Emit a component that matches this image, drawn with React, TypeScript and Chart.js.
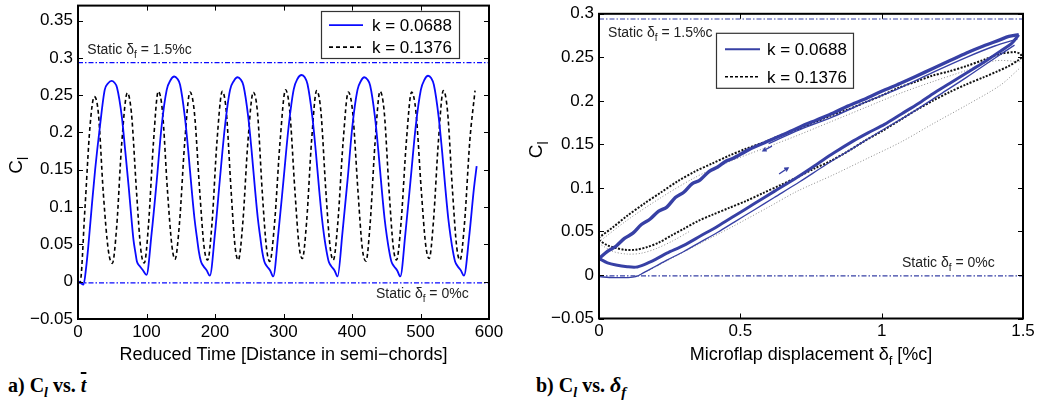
import React, { useEffect, useRef } from "react";
import { Chart, registerables } from "chart.js";
Chart.register(...registerables);

// ---------------- Left chart: C_l vs reduced time ----------------
const tBlue = [0, 3, 8, 12, 15, 20, 25, 32, 39, 44, 49, 53, 57, 64, 69, 74, 78, 81, 84, 86, 90, 95, 100,
  107.5, 115, 122, 129.5, 135, 140.5, 145, 149, 156, 161, 166, 170, 173.5, 176.5, 179.5, 183, 188, 192.5,
  200, 207, 214.5, 222, 227.5, 233, 237.5, 241.5, 248.5, 253.5, 258.5, 262.5, 266, 269, 272, 275.5, 280.5, 285,
  292.5, 300, 307.5, 315, 320.5, 326.5, 331, 335, 342, 347, 352, 356, 359.5, 363, 366, 369.5, 374.5, 379,
  386, 393.5, 400.5, 408, 413, 418, 422.5, 426.5, 433.5, 438.5, 443.5, 447.5, 451, 454.5, 457.5, 461, 466, 470.5,
  478, 485.5, 493, 500.5, 506, 511, 515.5, 519.5, 526.5, 531.5, 536.5, 540.5, 544, 547.5, 550.5, 554, 559, 563.5,
  571, 578, 582];
const clBlue = [0, -0.001, -0.004, 0.02, 0.047, 0.10, 0.15, 0.208, 0.257, 0.266, 0.269, 0.267, 0.260, 0.221, 0.175, 0.127, 0.085, 0.056, 0.038, 0.027, 0.021, 0.015, 0.009,
  0.065, 0.136, 0.208, 0.257, 0.270, 0.275, 0.272, 0.264, 0.221, 0.175, 0.123, 0.085, 0.060, 0.040, 0.027, 0.021, 0.015, 0.008,
  0.065, 0.136, 0.208, 0.257, 0.269, 0.274, 0.271, 0.263, 0.221, 0.175, 0.123, 0.085, 0.060, 0.040, 0.027, 0.021, 0.015, 0.007,
  0.065, 0.136, 0.208, 0.258, 0.272, 0.277, 0.274, 0.265, 0.222, 0.176, 0.124, 0.086, 0.060, 0.040, 0.027, 0.021, 0.015, 0.007,
  0.065, 0.136, 0.208, 0.257, 0.269, 0.274, 0.271, 0.263, 0.221, 0.175, 0.123, 0.085, 0.060, 0.040, 0.027, 0.021, 0.015, 0.007,
  0.065, 0.136, 0.208, 0.257, 0.271, 0.276, 0.273, 0.264, 0.221, 0.175, 0.123, 0.085, 0.060, 0.040, 0.027, 0.021, 0.015, 0.008,
  0.060, 0.125, 0.155];

const tBlack = [0, 3, 10, 17.5, 23.8, 29.7, 37, 44.3, 50.1, 56.5, 63.8, 72, 78, 85.6, 91.8, 96.8,
  102.9, 110.1, 117.2, 123.3, 130.6, 137.1, 141.6, 148.2, 155.8, 163.5, 169.9, 177.7, 184, 189.3,
  195.7, 202.8, 210.7, 216.5, 223.5, 229.3, 234, 240.6, 248, 255.9, 262, 269, 275.2, 280,
  286.9, 295, 303, 309, 316.5, 322.6, 327.5, 333.8, 341, 348.4, 354.5, 361.8, 368, 372.7,
  379.3, 387, 394.6, 401, 408.8, 415, 420.4, 426.5, 433.7, 440.9, 447, 454.2, 460.2, 465,
  471.6, 479.3, 487, 493.4, 501.1, 507.6, 512.7, 518.9, 526.2, 533.3, 539.4, 546.7, 552.8, 557.7,
  564.3, 572, 579.6];
const clBlack = [0, -0.001, 0.096, 0.208, 0.248, 0.226, 0.118, 0.042, 0.0245, 0.074, 0.185, 0.253, 0.226, 0.118, 0.042, 0.025,
  0.076, 0.186, 0.255, 0.228, 0.122, 0.048, 0.030, 0.079, 0.187, 0.254, 0.227, 0.121, 0.047, 0.029,
  0.079, 0.187, 0.255, 0.228, 0.122, 0.047, 0.029, 0.079, 0.187, 0.254, 0.227, 0.120, 0.045, 0.027,
  0.078, 0.188, 0.257, 0.230, 0.124, 0.049, 0.031, 0.081, 0.189, 0.256, 0.229, 0.122, 0.047, 0.029,
  0.079, 0.187, 0.254, 0.227, 0.120, 0.045, 0.0275, 0.078, 0.187, 0.255, 0.228, 0.121, 0.047, 0.029,
  0.079, 0.187, 0.254, 0.227, 0.123, 0.049, 0.031, 0.081, 0.189, 0.256, 0.229, 0.122, 0.047, 0.029,
  0.079, 0.189, 0.256];

const xTicksL = [0, 100, 200, 300, 400, 500, 600];
const yTicksL = [-0.05, 0, 0.05, 0.1, 0.15, 0.2, 0.25, 0.3, 0.35];
const xRangeL = [0, 600];
const yRangeL = [-0.05, 0.37];
const staticL = [0.2935, -0.0015];
const staticLabelPosL = [[13.6, 0.312], [435, -0.015]];

// ---------------- Right chart: C_l vs flap displacement ----------------
const dBlueUp = [1.485, 1.45, 1.418, 1.36, 1.30, 1.24, 1.183, 1.12, 1.065, 1.00, 0.947, 0.88, 0.829, 0.77, 0.711, 0.65, 0.593, 0.53, 0.475, 0.45, 0.42, 0.39, 0.357, 0.33, 0.30, 0.27, 0.24, 0.21, 0.18, 0.15, 0.12, 0.09, 0.06, 0.03, 0.0];
const cBlueUp = [0.276, 0.274, 0.270, 0.263, 0.255, 0.246, 0.2375, 0.228, 0.220, 0.211, 0.203, 0.194, 0.186, 0.178, 0.170, 0.161, 0.153, 0.144, 0.134, 0.131, 0.124, 0.119, 0.109, 0.105, 0.095, 0.089, 0.078, 0.073, 0.064, 0.058, 0.048, 0.042, 0.033, 0.027, 0.019];
const dBlueUp2 = [1.48, 1.40, 1.30, 1.183, 1.065, 0.947, 0.829, 0.711, 0.60];
const cBlueUp2 = [0.271, 0.263, 0.250, 0.233, 0.215, 0.199, 0.182, 0.167, 0.151];
const dBlueLo = [0, 0.03, 0.06, 0.10, 0.13, 0.16, 0.20, 0.24, 0.30, 0.36, 0.42, 0.48, 0.55, 0.62, 0.70, 0.77, 0.83, 0.90, 0.95, 1.01, 1.07, 1.13, 1.18, 1.24, 1.30, 1.36, 1.42, 1.46, 1.485];
const cBlueLo = [0.019, 0.014, 0.0115, 0.0095, 0.009, 0.012, 0.018, 0.025, 0.034, 0.045, 0.056, 0.068, 0.082, 0.096, 0.112, 0.127, 0.140, 0.154, 0.163, 0.173, 0.185, 0.197, 0.208, 0.220, 0.232, 0.244, 0.257, 0.266, 0.276];
const dBlueFirst = [0, 0.05, 0.10, 0.13, 0.16, 0.20, 0.24, 0.30, 0.36, 0.42, 0.48, 0.55, 0.62, 0.71, 0.80, 0.90, 1.0, 1.1, 1.2, 1.3, 1.4, 1.47];
const cBlueFirst = [-0.002, -0.003, -0.003, -0.002, 0.003, 0.010, 0.017, 0.027, 0.038, 0.049, 0.061, 0.075, 0.089, 0.107, 0.126, 0.146, 0.166, 0.185, 0.206, 0.227, 0.249, 0.264];
const dBlackLoop = [0, 0.03, 0.06, 0.09, 0.13, 0.17, 0.21, 0.26, 0.30, 0.35, 0.40, 0.46, 0.52, 0.58, 0.64, 0.70, 0.76, 0.82, 0.88, 0.94, 1.00, 1.06, 1.12, 1.18, 1.24, 1.30, 1.36, 1.41, 1.45, 1.48, 1.495, 1.49,
  1.47, 1.42, 1.36, 1.30, 1.24, 1.18, 1.12, 1.06, 1.00, 0.94, 0.88, 0.82, 0.76, 0.70, 0.64, 0.58, 0.52, 0.46, 0.40, 0.34, 0.28, 0.22, 0.16, 0.10, 0.05, 0.0];
const cBlackLoop = [0.040, 0.034, 0.031, 0.029, 0.029, 0.032, 0.037, 0.046, 0.053, 0.062, 0.069, 0.077, 0.085, 0.094, 0.103, 0.112, 0.122, 0.131, 0.142, 0.154, 0.165, 0.177, 0.189, 0.200, 0.210, 0.219, 0.227, 0.234, 0.240, 0.246, 0.250, 0.254,
  0.256, 0.254, 0.247, 0.240, 0.234, 0.229, 0.222, 0.215, 0.206, 0.198, 0.190, 0.183, 0.175, 0.167, 0.160, 0.152, 0.145, 0.137, 0.128, 0.119, 0.108, 0.095, 0.082, 0.068, 0.055, 0.043];
const dGrayLo = [0.12, 0.143, 0.25, 0.35, 0.475, 0.60, 0.70, 0.829, 0.95, 1.07, 1.183, 1.30, 1.42, 1.49];
const cGrayLo = [-0.002, 0.0, 0.018, 0.035, 0.056, 0.078, 0.096, 0.115, 0.134, 0.153, 0.174, 0.195, 0.218, 0.238];
const dGrayUp = [1.49, 1.40, 1.30, 1.18, 1.06, 0.94, 0.82, 0.70, 0.58, 0.46, 0.34, 0.22, 0.10, 0.0];
const cGrayUp = [0.245, 0.246, 0.235, 0.222, 0.208, 0.192, 0.176, 0.160, 0.145, 0.130, 0.112, 0.089, 0.063, 0.038];
const dGrayTrough = [0, 0.05, 0.10, 0.15, 0.20, 0.26, 0.32];
const cGrayTrough = [0.036, 0.027, 0.024, 0.025, 0.030, 0.039, 0.050];
const arrowsR = [[[0.612, 0.148], [0.58, 0.1425]], [[0.637, 0.116], [0.669, 0.123]]];

const xTicksR = [0, 0.5, 1, 1.5];
const yTicksR = [-0.05, 0, 0.05, 0.1, 0.15, 0.2, 0.25, 0.3];
const xRangeR = [0, 1.5];
const yRangeR = [-0.05, 0.3];
const staticR = [0.294, -0.001];
const staticLabelPosR = [[0.032, 0.279], [1.072, 0.015]];

const legendLabels = ["k = 0.0688", "k = 0.1376"];

// ---------------- helpers ----------------
const FAM = '"Liberation Sans", Arial, Helvetica, sans-serif';
type Seg = { t: string; sub?: boolean; it?: boolean };
const segFont = (s: Seg, size: number) => `${s.it ? "italic " : ""}${s.sub ? Math.round(size * 0.72) : size}px ${FAM}`;
function drawRich(ctx: CanvasRenderingContext2D, segs: Seg[], x: number, yMid: number, size: number, align: string) {
  let w = 0;
  for (const s of segs) { ctx.font = segFont(s, size); w += ctx.measureText(s.t).width; }
  let cx = align === "center" ? x - w / 2 : x;
  ctx.textAlign = "left";
  ctx.textBaseline = "alphabetic";
  const base = yMid + size * 0.36;
  for (const s of segs) {
    ctx.font = segFont(s, size);
    ctx.fillText(s.t, cx, base + (s.sub ? size * 0.3 : 0));
    cx += ctx.measureText(s.t).width;
  }
}
const zip = (xs: number[], ys: number[]) => xs.slice(0, Math.min(xs.length, ys.length)).map((x, i) => ({ x, y: ys[i] }));
const fmt = (v: number) => parseFloat(v.toFixed(3)).toString().replace("-", "\u2212");

type LegendItem = { color: string; dash: number[]; width: number };
type FrameCfg = {
  staticPos: number[][];
  staticTexts: Seg[][];
  legendBox: (a: any) => { x: number; y: number; w: number; h: number; rows: number[]; lineX: number[]; textX: number };
  legendItems: LegendItem[];
  xTitle: Seg[];
  xTitleDy: number;
  yTitleX: number;
  yTitleY: (a: any) => number;
  arrows?: number[][][];
  arrowColor?: string;
};

function makeFrame(cfg: FrameCfg) {
  return {
    id: "frame",
    afterDatasetsDraw(chart: any) {
      const { ctx, chartArea: a, scales } = chart;
      const xs = scales.x, ys = scales.y;
      ctx.save();
      if (cfg.arrows) {
        ctx.strokeStyle = cfg.arrowColor; ctx.lineWidth = 1.3;
        for (const [p0, p1] of cfg.arrows) {
          const x0 = xs.getPixelForValue(p0[0]), y0 = ys.getPixelForValue(p0[1]);
          const x1 = xs.getPixelForValue(p1[0]), y1 = ys.getPixelForValue(p1[1]);
          const ang = Math.atan2(y1 - y0, x1 - x0);
          ctx.beginPath();
          ctx.moveTo(x0, y0); ctx.lineTo(x1, y1);
          ctx.moveTo(x1 - 4 * Math.cos(ang - 0.5), y1 - 4 * Math.sin(ang - 0.5));
          ctx.lineTo(x1, y1);
          ctx.lineTo(x1 - 4 * Math.cos(ang + 0.5), y1 - 4 * Math.sin(ang + 0.5));
          ctx.stroke();
        }
      }
      ctx.strokeStyle = "#000"; ctx.lineWidth = 1; ctx.setLineDash([]);
      ctx.beginPath();
      for (const t of xs.ticks) {
        const p = Math.round(xs.getPixelForValue(t.value)) + 0.5;
        ctx.moveTo(p, a.bottom); ctx.lineTo(p, a.bottom - 5);
        ctx.moveTo(p, a.top); ctx.lineTo(p, a.top + 5);
      }
      for (const t of ys.ticks) {
        const p = Math.round(ys.getPixelForValue(t.value)) + 0.5;
        ctx.moveTo(a.left, p); ctx.lineTo(a.left + 5, p);
        ctx.moveTo(a.right, p); ctx.lineTo(a.right - 5, p);
      }
      ctx.stroke();
      ctx.lineWidth = 2;
      ctx.strokeRect(a.left, a.top, a.right - a.left, a.bottom - a.top);
      ctx.fillStyle = "#222";
      cfg.staticPos.forEach((p, i) => {
        drawRich(ctx, cfg.staticTexts[i], xs.getPixelForValue(p[0]), ys.getPixelForValue(p[1]), 14, "left");
      });
      const L = cfg.legendBox(a);
      ctx.fillStyle = "#fff";
      ctx.fillRect(L.x, L.y, L.w, L.h);
      ctx.strokeStyle = "#333"; ctx.lineWidth = 1.2;
      ctx.strokeRect(L.x + 0.5, L.y + 0.5, L.w, L.h);
      cfg.legendItems.forEach((it, i) => {
        ctx.strokeStyle = it.color; ctx.lineWidth = it.width; ctx.setLineDash(it.dash);
        ctx.beginPath(); ctx.moveTo(L.lineX[0], L.rows[i]); ctx.lineTo(L.lineX[1], L.rows[i]); ctx.stroke();
        ctx.setLineDash([]);
        ctx.fillStyle = "#000";
        drawRich(ctx, [{ t: legendLabels[i] }], L.textX, L.rows[i], 17, "left");
      });
      ctx.fillStyle = "#000";
      drawRich(ctx, cfg.xTitle, (a.left + a.right) / 2, a.bottom + cfg.xTitleDy, 18, "center");
      ctx.save();
      ctx.translate(cfg.yTitleX, cfg.yTitleY(a));
      ctx.rotate(-Math.PI / 2);
      drawRich(ctx, [{ t: "C" }, { t: "l", sub: true }], 0, 0, 19, "center");
      ctx.restore();
      ctx.restore();
    },
  };
}

function noPad(s: any) { s.paddingTop = 0; s.paddingBottom = 0; s.paddingLeft = 0; s.paddingRight = 0; }

function axes(xr: number[], yr: number[], xt: number[], yt: number[], yW: number, xH: number) {
  const tickFont = { family: FAM, size: 17 };
  return {
    x: {
      type: "linear", min: xr[0], max: xr[1],
      grid: { display: false, drawTicks: false }, border: { display: false },
      afterBuildTicks: (s: any) => { s.ticks = xt.map((v) => ({ value: v })); },
      afterFit: (s: any) => { s.height = xH; noPad(s); },
      ticks: { color: "#000", font: tickFont, padding: 3, maxRotation: 0, autoSkip: false, callback: (v: any) => fmt(Number(v)) },
    },
    y: {
      type: "linear", min: yr[0], max: yr[1],
      grid: { display: false, drawTicks: false }, border: { display: false },
      afterBuildTicks: (s: any) => { s.ticks = yt.map((v) => ({ value: v })); },
      afterFit: (s: any) => { s.width = yW; noPad(s); },
      ticks: { color: "#000", font: tickFont, padding: 5, autoSkip: false, callback: (v: any) => fmt(Number(v)) },
    },
  };
}

const BLUE_L = "#0a0aff";
const BLUE_R = "rgb(55,64,165)";

function leftConfig(): any {
  const line = (v: number) => [{ x: xRangeL[0], y: v }, { x: xRangeL[1], y: v }];
  return {
    type: "scatter",
    data: {
      datasets: [
        { data: zip(tBlue, clBlue), borderColor: BLUE_L, borderWidth: 1.8, cubicInterpolationMode: "monotone" },
        { data: zip(tBlack, clBlack), borderColor: "#000", borderWidth: 1.6, borderDash: [4, 3], cubicInterpolationMode: "monotone" },
        { data: line(staticL[0]), borderColor: BLUE_L, borderWidth: 1.2, borderDash: [5, 2, 1.5, 2] },
        { data: line(staticL[1]), borderColor: BLUE_L, borderWidth: 1.2, borderDash: [5, 2, 1.5, 2] },
      ],
    },
    options: {
      responsive: false, animation: false, events: [],
      showLine: true,
      elements: { point: { radius: 0 } },
      layout: { padding: { left: 0, right: 21, top: 5.6, bottom: 0 } },
      plugins: { legend: { display: false }, tooltip: { enabled: false } },
      scales: axes(xRangeL, yRangeL, xTicksL, yTicksL, 78, 51),
    },
    plugins: [makeFrame({
      staticPos: staticLabelPosL,
      staticTexts: [[{ t: "Static \u03b4" }, { t: "f", sub: true }, { t: " = 1.5%c" }], [{ t: "Static \u03b4" }, { t: "f", sub: true }, { t: " = 0%c" }]],
      legendBox: (a: any) => ({ x: a.right - 168, y: a.top + 5.4, w: 138, h: 47, rows: [a.top + 19.5, a.top + 41.5], lineX: [a.right - 160, a.right - 126], textX: a.right - 117 }),
      legendItems: [{ color: BLUE_L, dash: [], width: 1.8 }, { color: "#000", dash: [4, 3], width: 1.6 }],
      xTitle: [{ t: "Reduced Time [Distance in semi\u2212chords]" }],
      xTitleDy: 34.5,
      yTitleX: 15,
      yTitleY: (a: any) => (a.top + a.bottom) / 2 + 3,
    })],
  };
}

function rightConfig(): any {
  const line = (v: number) => [{ x: xRangeR[0], y: v }, { x: xRangeR[1], y: v }];
  return {
    type: "scatter",
    data: {
      datasets: [
        { data: zip(dBlueUp, cBlueUp), borderColor: BLUE_R, borderWidth: 3.4, tension: 0.3 },
        { data: zip(dBlueUp2, cBlueUp2), borderColor: BLUE_R, borderWidth: 1.4, tension: 0.3 },
        { data: zip(dBlueLo, cBlueLo), borderColor: BLUE_R, borderWidth: 3, tension: 0.3 },
        { data: zip(dBlueFirst, cBlueFirst), borderColor: BLUE_R, borderWidth: 1.3, tension: 0.3 },
        { data: zip(dBlackLoop, cBlackLoop), borderColor: "#111", borderWidth: 2, borderDash: [2, 1.5], tension: 0.3 },
        { data: zip(dGrayUp, cGrayUp), borderColor: "#8a8a8a", borderWidth: 1, borderDash: [1, 2], tension: 0.3 },
        { data: zip(dGrayLo, cGrayLo), borderColor: "#8a8a8a", borderWidth: 1, borderDash: [1, 2], tension: 0.3 },
        { data: zip(dGrayTrough, cGrayTrough), borderColor: "#8a8a8a", borderWidth: 1, borderDash: [1, 2], tension: 0.3 },
        { data: line(staticR[0]), borderColor: BLUE_R, borderWidth: 1.2, borderDash: [5, 2, 1.5, 2] },
        { data: line(staticR[1]), borderColor: BLUE_R, borderWidth: 1.2, borderDash: [5, 2, 1.5, 2] },
      ],
    },
    options: {
      responsive: false, animation: false, events: [],
      showLine: true,
      elements: { point: { radius: 0 } },
      layout: { padding: { left: 0, right: 22, top: 13.8, bottom: 0 } },
      plugins: { legend: { display: false }, tooltip: { enabled: false } },
      scales: axes(xRangeR, yRangeR, xTicksR, yTicksR, 79, 51.5),
    },
    plugins: [makeFrame({
      staticPos: staticLabelPosR,
      staticTexts: [[{ t: "Static \u03b4" }, { t: "f", sub: true }, { t: " = 1.5%c" }], [{ t: "Static \u03b4" }, { t: "f", sub: true }, { t: " = 0%c" }]],
      legendBox: (a: any) => ({ x: a.left + 117, y: a.top + 19, w: 137, h: 55, rows: [a.top + 35.5, a.top + 63], lineX: [a.left + 126, a.left + 161], textX: a.left + 168 }),
      legendItems: [{ color: BLUE_R, dash: [], width: 2 }, { color: "#000", dash: [3, 2], width: 1.6 }],
      xTitle: [{ t: "Microflap displacement \u03b4" }, { t: "f", sub: true }, { t: " [%c]" }],
      xTitleDy: 35,
      yTitleX: 15,
      yTitleY: (a: any) => a.top + 136,
      arrows: arrowsR,
      arrowColor: BLUE_R,
    })],
  };
}

export default function App() {
  const leftRef = useRef<HTMLCanvasElement>(null);
  const rightRef = useRef<HTMLCanvasElement>(null);
  useEffect(() => {
    const c1 = new Chart(leftRef.current as HTMLCanvasElement, leftConfig());
    const c2 = new Chart(rightRef.current as HTMLCanvasElement, rightConfig());
    return () => { c1.destroy(); c2.destroy(); };
  }, []);
  const cap: React.CSSProperties = { position: "absolute", top: 375, fontFamily: '"Liberation Serif", "Times New Roman", serif', fontWeight: "bold", fontSize: 20, lineHeight: "20px", whiteSpace: "nowrap", color: "#000" };
  return (
    <div style={{ position: "fixed", left: 0, top: 0, width: 1045, height: 408, background: "#fff", overflow: "hidden" }}>
      <canvas ref={leftRef} width={510} height={370} style={{ position: "absolute", left: 0, top: 0 }} />
      <canvas ref={rightRef} width={525} height={370} style={{ position: "absolute", left: 520, top: 0 }} />
      <div style={{ ...cap, left: 8 }}>
        a) C<sub style={{ fontSize: 14 }}><i>l</i></sub> vs. <i style={{ textDecoration: "overline" }}>t</i>
      </div>
      <div style={{ ...cap, left: 536 }}>
        b) C<sub style={{ fontSize: 14 }}><i>l</i></sub> vs. <i style={{ fontSize: 22 }}>δ<sub style={{ fontSize: 15 }}>f</sub></i>
      </div>
    </div>
  );
}
